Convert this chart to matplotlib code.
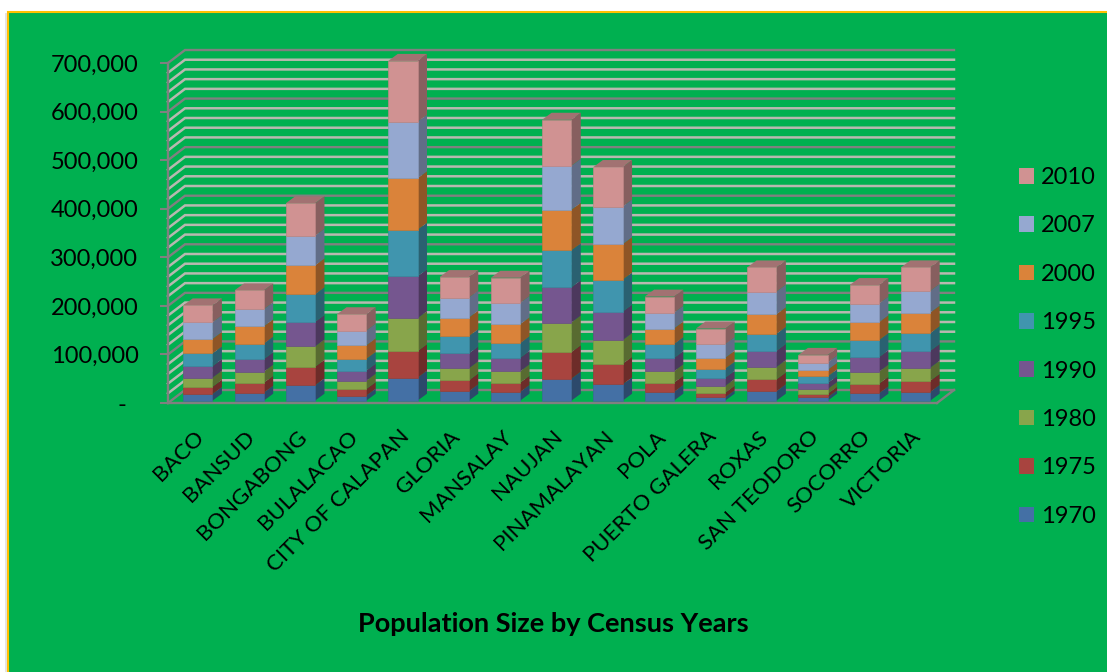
import matplotlib
matplotlib.use("Agg")
import numpy as np
import matplotlib.pyplot as plt
from matplotlib.patches import Patch, Polygon, Rectangle

plt.rcParams['font.family'] = ['Lato', 'DejaVu Sans']

# Population by census year
towns = ['BACO', 'BANSUD', 'BONGABONG', 'BULALACAO', 'CITY OF CALAPAN',
         'GLORIA', 'MANSALAY', 'NAUJAN', 'PINAMALAYAN', 'POLA',
         'PUERTO GALERA', 'ROXAS', 'SAN TEODORO', 'SOCORRO', 'VICTORIA']
y1970 = [13700, 16400, 31500, 10300, 47200, 19200, 17800, 45200, 33500, 17800, 6800, 19200, 6800, 15000, 17800]
y1975 = [15000, 20500, 38300, 13700, 54800, 22600, 19200, 54800, 42400, 19200, 9600, 24600, 7500, 19900, 23300]
y1980 = [18500, 22600, 41800, 17000, 67800, 24600, 23300, 60900, 48600, 23300, 13700, 25300, 9600, 24600, 26700]
y1990 = [24000, 26000, 50600, 21000, 86200, 30800, 28000, 72600, 58900, 27400, 17100, 33500, 12300, 30100, 34900]
y1995 = [26000, 32000, 56800, 24000, 95900, 35600, 30000, 76000, 65700, 28700, 18500, 34900, 13700, 34900, 36300]
y2000 = [30000, 35600, 59500, 28000, 106000, 38300, 39000, 83500, 73200, 32200, 22600, 40400, 13700, 37000, 42400]
y2007 = [34000, 35000, 61000, 30000, 116400, 41000, 43800, 90300, 77300, 32200, 28000, 46500, 15000, 38300, 44500]
y2010 = [35000, 39000, 67000, 34000, 125300, 42400, 52000, 95100, 81500, 33500, 32200, 50000, 15700, 38300, 48600]

years = ['1970', '1975', '1980', '1990', '1995', '2000', '2007', '2010']
series = [y1970, y1975, y1980, y1990, y1995, y2000, y2007, y2010]
colors = ['#4470A5', '#A8443F', '#88A54B', '#75568F',
          '#4095AE', '#DA833A', '#95A8D0', '#D09292']

W, H = 1107, 672
GREEN = '#00B050'
MAJOR = '#808080'
MINOR = '#B8B8B0'


def shade(color, factor):
    r, g, b = matplotlib.colors.to_rgb(color)
    return (r * factor, g * factor, b * factor)


fig = plt.figure(figsize=(W / 100, H / 100), dpi=100, facecolor='white')

# card behind the chart
fig.add_artist(Rectangle((5 / W, 0), (W - 5) / W, (H - 13) / H, transform=fig.transFigure,
                         facecolor='#E4E4E4', edgecolor='none', zorder=-2))
fig.add_artist(Rectangle((7.5 / W, -0.01), 1.02, (H - 12) / H + 0.01, transform=fig.transFigure,
                         facecolor=GREEN, edgecolor='#FFC000', linewidth=1.5, zorder=-1))

ax = fig.add_axes([168 / W, (H - 403) / H, 769 / W, 340 / H])
ax.set_facecolor('none')
ax.set_xlim(-0.5, 14.5)
ax.set_ylim(0, 700000)

# size of one pixel in data units
px = 15.0 / 769
py = 700000 / 340.0

# depth of the walls and of the bars
wall_x, wall_y = 17 * px, 13 * py
depth_x, depth_y = 9.5 * px, 7 * py
shift_x, shift_y = 4.2 * px, 2.3 * py
bar_w = 29.2 * px

# walls
x0, x1 = -0.5, 14.5
for v in range(0, 700001, 20000):
    major = v % 100000 == 0
    c = MAJOR if major else MINOR
    lw = 1.7 if major else 1.8
    z = 2 if major else 1
    ax.plot([x0, x0 + wall_x, x1 + wall_x], [v, v + wall_y, v + wall_y],
            color=c, lw=lw, clip_on=False, zorder=z, solid_joinstyle='miter')
ax.plot([x1, x1 + wall_x], [0, wall_y], color=MAJOR, lw=1.7, clip_on=False, zorder=2)

# stacked bars with side and top faces
xs = np.arange(len(towns)) + shift_x
bottom = np.zeros(len(towns))
for vals, col in zip(series, colors):
    vals = np.array(vals, dtype=float)
    ax.bar(xs, vals, width=bar_w, bottom=bottom + shift_y, color=col, zorder=4, clip_on=False,
           edgecolor=shade(col, 0.92), linewidth=0.5)
    for x, b, v in zip(xs, bottom + shift_y, vals):
        r = x + bar_w / 2
        ax.add_patch(Polygon([(r, b), (r + depth_x, b + depth_y),
                              (r + depth_x, b + v + depth_y), (r, b + v)],
                             facecolor=shade(col, 0.65), edgecolor='none',
                             zorder=3, clip_on=False))
    bottom += vals

top_col = shade(colors[-1], 0.78)
for x, t in zip(xs, bottom + shift_y):
    l, r = x - bar_w / 2, x + bar_w / 2
    ax.add_patch(Polygon([(l, t), (l + depth_x, t + depth_y),
                          (r + depth_x, t + depth_y), (r, t)],
                         facecolor=top_col, edgecolor='none', zorder=3, clip_on=False))

# axes
for s in ['top', 'right']:
    ax.spines[s].set_visible(False)
for s in ['left', 'bottom']:
    ax.spines[s].set_color(MAJOR)
    ax.spines[s].set_linewidth(1.7)
    ax.spines[s].set_zorder(5)

yticks = list(range(0, 700001, 100000))
ax.set_yticks(yticks)
ax.set_yticklabels(['-  '] + [f'{v:,}' for v in yticks[1:]], fontsize=17)
ax.tick_params(axis='y', length=6, width=1.5, color=MAJOR, pad=15.3)
ax.set_xticks(np.arange(len(towns)))
ax.set_xticklabels(towns, rotation=45, ha='right', rotation_mode='anchor', fontsize=16)
ax.tick_params(axis='x', length=0, pad=17)

handles = [Patch(facecolor=c, label=y) for c, y in zip(colors, years)][::-1]
fig.legend(handles=handles, loc='upper left', bbox_to_anchor=(1019 / W, 1 - 167 / H),
           frameon=False, fontsize=17, labelspacing=1.16, handlelength=0.64,
           handleheight=0.64, handletextpad=0.3, borderpad=0, borderaxespad=0)

fig.text(553 / W, 1 - 624 / H, 'Population Size by Census Years', ha='center', va='center',
         fontsize=19.5, fontweight='bold')

fig.savefig('out.png', dpi=100)
